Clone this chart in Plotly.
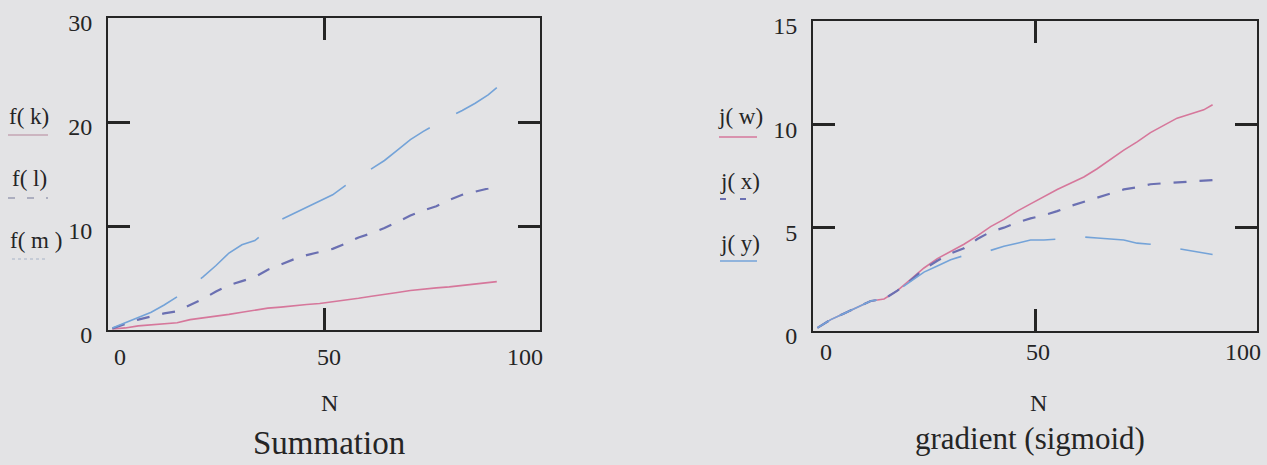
import plotly.graph_objects as go

W, H = 1267, 465

# ---------------- data ----------------
N = [1, 4, 7, 10, 13, 16, 19, 22, 25, 28, 31, 34, 37, 40, 43, 46, 49, 52, 55, 58,
     61, 64, 67, 70, 73, 76, 79, 82, 85, 88, 90]

f_k = [0.1, 0.2, 0.4, 0.5, 0.55, 0.7, 1.0, 1.15, 1.35, 1.5, 1.7, 1.9, 2.1, 2.2, 2.35, 2.45,
       2.55, 2.7, 2.85, 3.05, 3.25, 3.4, 3.6, 3.8, 3.95, 4.05, 4.15, 4.3, 4.45, 4.55, 4.65]
f_l = [0.15, 0.6, 1.0, 1.3, 1.6, 1.8, 2.4, 3.0, 3.7, 4.3, 4.7, 5.1, 5.8, 6.3, 6.8, 7.2,
       7.5, 7.8, 8.3, 8.9, 9.3, 9.8, 10.4, 11.0, 11.5, 11.9, 12.5, 13.0, 13.3, 13.6, 13.9]
f_m = [0.2, 0.7, 1.2, 1.7, 2.4, 3.2, 4.2, 5.1, 6.2, 7.4, 8.2, 8.6, 9.6, 10.6, 11.2, 11.8,
       12.4, 13.0, 13.9, 14.7, 15.5, 16.3, 17.3, 18.3, 19.1, 19.8, 20.5, 21.1, 21.8, 22.6, 23.3]

j_w = [0.15, 0.55, 0.85, 1.15, 1.45, 1.55, 1.95, 2.5, 3.05, 3.5, 3.85, 4.2, 4.6, 5.05, 5.4, 5.8,
       6.15, 6.5, 6.85, 7.15, 7.45, 7.85, 8.3, 8.75, 9.15, 9.6, 9.95, 10.3, 10.5, 10.7, 10.95]
j_x = [0.15, 0.55, 0.85, 1.15, 1.45, 1.55, 1.95, 2.45, 3.0, 3.4, 3.75, 4.0, 4.45, 4.8, 5.0, 5.25,
       5.45, 5.6, 5.8, 6.05, 6.25, 6.45, 6.65, 6.85, 6.95, 7.1, 7.15, 7.2, 7.25, 7.3, 7.3]
j_y = [0.15, 0.55, 0.85, 1.15, 1.45, 1.55, 1.95, 2.4, 2.85, 3.15, 3.45, 3.65, 3.8, 3.9, 4.1, 4.25,
       4.4, 4.4, 4.45, 4.5, 4.55, 4.5, 4.45, 4.4, 4.25, 4.2, 4.1, 4.0, 3.9, 3.8, 3.7]

x_ticks = [0, 50, 100]
left_y_ticks = [0, 10, 20, 30]
right_y_ticks = [0, 5, 10, 15]

# ---------------- style ----------------
BG = "#e3e3e5"
INK = "#252525"
PINK = "#d6779b"
SLATE = "#6b70b2"
LBLUE = "#74a3d8"
FONT = "Liberation Serif, Times New Roman, serif"


def px(x):
    return x / W


def py(y):
    return 1 - y / H


L = dict(x0=108, x1=540, y0=18, y1=330)
R = dict(x0=813, x1=1257, y0=21, y1=331)

fig = go.Figure()

# left panel traces
fig.add_trace(go.Scatter(x=N, y=f_k, mode="lines", line=dict(color=PINK, width=1.6),
                         xaxis="x", yaxis="y", showlegend=False))
fig.add_trace(go.Scatter(x=N, y=f_l, mode="lines", line=dict(color=SLATE, width=2.2, dash="13px,13px"),
                         xaxis="x", yaxis="y", showlegend=False))
fig.add_trace(go.Scatter(x=N, y=f_m, mode="lines", line=dict(color=LBLUE, width=1.6, dash="72px,30px"),
                         xaxis="x", yaxis="y", showlegend=False))

# right panel traces
fig.add_trace(go.Scatter(x=N, y=j_w, mode="lines", line=dict(color=PINK, width=1.6),
                         xaxis="x2", yaxis="y2", showlegend=False))
fig.add_trace(go.Scatter(x=N, y=j_x, mode="lines", line=dict(color=SLATE, width=2.2, dash="13px,13px"),
                         xaxis="x2", yaxis="y2", showlegend=False))
fig.add_trace(go.Scatter(x=N, y=j_y, mode="lines", line=dict(color=LBLUE, width=1.6, dash="66px,30px"),
                         xaxis="x2", yaxis="y2", showlegend=False))

common_x = dict(range=[0, 100], tickvals=[50], ticks="inside", ticklen=22, tickwidth=2.5,
                tickcolor=INK, showline=True, linewidth=2, linecolor=INK, mirror="ticks",
                showticklabels=False, showgrid=False, zeroline=False, fixedrange=True,
                automargin=False)
common_y = dict(ticks="inside", ticklen=22, tickwidth=2.5, tickcolor=INK, showline=True,
                linewidth=2, linecolor=INK, mirror="ticks", showgrid=False, zeroline=False,
                tickfont=dict(family=FONT, size=24, color=INK), ticklabelstandoff=9,
                ticklabelshift=5, fixedrange=True, automargin=False)

fig.update_layout(
    width=W, height=H,
    margin=dict(l=0, r=0, t=0, b=0, pad=0, autoexpand=False),
    paper_bgcolor=BG, plot_bgcolor=BG,
    font=dict(family=FONT, color=INK),
    xaxis=dict(domain=[px(L["x0"]), px(L["x1"])], anchor="y", **common_x),
    yaxis=dict(domain=[py(L["y1"]), py(L["y0"])], anchor="x", range=[0, 30],
               tickvals=left_y_ticks, **common_y),
    xaxis2=dict(domain=[px(R["x0"]), px(R["x1"])], anchor="y2", **common_x),
    yaxis2=dict(domain=[py(R["y1"]), py(R["y0"])], anchor="x2", range=[0, 15],
                tickvals=right_y_ticks, **common_y),
)

CA = dict(xanchor="center", yanchor="middle", showarrow=False)
ann = []
# x tick labels (Mathcad places the end labels inward)
shifts = [12, 5, -15]
for v, s in zip(x_ticks, shifts):
    ann.append(dict(x=v, y=0, xref="x", yref="y", text=str(v), xshift=s, yshift=-27,
                    font=dict(size=24, family=FONT, color=INK), **CA))
shifts2 = [13, 3, -14]
for v, s in zip(x_ticks, shifts2):
    ann.append(dict(x=v, y=0, xref="x2", yref="y2", text=str(v), xshift=s, yshift=-21,
                    font=dict(size=24, family=FONT, color=INK), **CA))

# axis titles and captions
ann.append(dict(x=50, y=0, xref="x", yref="y", text="N", xshift=5, yshift=-73,
                font=dict(size=24, family=FONT, color=INK), **CA))
ann.append(dict(x=50, y=0, xref="x", yref="y", text="Summation", xshift=5, yshift=-113,
                font=dict(size=33, family=FONT, color=INK), **CA))
ann.append(dict(x=50, y=0, xref="x2", yref="y2", text="N", xshift=3, yshift=-72,
                font=dict(size=24, family=FONT, color=INK), **CA))
ann.append(dict(x=50, y=0, xref="x2", yref="y2", text="gradient (sigmoid)", xshift=-5,
                yshift=-107, font=dict(size=31, family=FONT, color=INK), **CA))

# legend labels (Mathcad-style trace names on the y side)
legend_left = [("f( k)", 29, 116), ("f( l)", 29, 178), ("f( m )", 36, 240)]
legend_right = [("j( w)", 740, 117), ("j( x)", 740, 182), ("j( y)", 740, 243)]
for t, x, y in legend_left + legend_right:
    ann.append(dict(x=px(x), y=py(y), xref="paper", yref="paper", text=t,
                    font=dict(size=23, family=FONT, color=INK), **CA))

fig.update_layout(annotations=ann)

shapes = []
samples = [
    (8, 48, 135, "#c4a6b3", "solid", 1.4),
    (8, 48, 198, "#9a9db3", "7px,12px", 1.4),
    (12, 48, 259, "#a8b4c8", "dot", 1.2),
    (719, 757, 137, PINK, "solid", 1.6),
    (720, 757, 199, SLATE, "6px,14px", 1.8),
    (720, 757, 261, LBLUE, "solid", 1.4),
]
for x0, x1, y, c, d, w in samples:
    shapes.append(dict(type="line", xref="paper", yref="paper", x0=px(x0), x1=px(x1),
                       y0=py(y), y1=py(y), line=dict(color=c, dash=d, width=w)))
fig.update_layout(shapes=shapes)

fig.write_html("out.html", config={"displayModeBar": False},
               post_script="document.body.style.margin='0';document.body.style.overflow='hidden';")
